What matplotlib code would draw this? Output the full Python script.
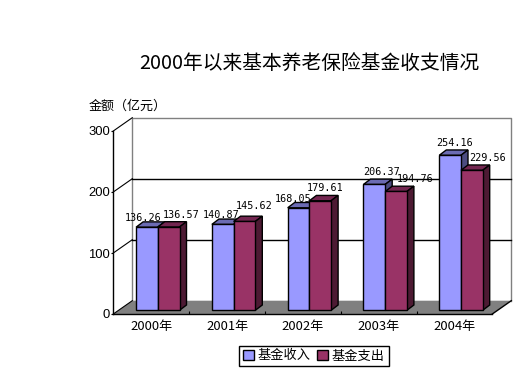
import numpy as np
import matplotlib
matplotlib.use('Agg')
import matplotlib.pyplot as plt
from matplotlib.patches import Patch, Polygon

plt.rcParams['font.family'] = ['Noto Sans CJK SC', 'DejaVu Sans']

# Data
years = ['2000年', '2001年', '2002年', '2003年', '2004年']
income = [136.26, 140.87, 168.05, 206.37, 254.16]
spending = [136.57, 145.62, 179.61, 194.76, 229.56]
y_ticks = [0, 100, 200, 300]

W, H = 515, 377
fig = plt.figure(figsize=(W / 100, H / 100), dpi=100, facecolor='white')

# Front plane of the fake 3D box, pixel rectangle of the original
left, right, top, bottom = 113.3, 492.3, 131.0, 314.0
ax = fig.add_axes([left / W, 1 - bottom / H, (right - left) / W, (bottom - top) / H])
ax.set_xlim(0, 5)
ax.set_ylim(0, 300)
ax.patch.set_alpha(0)

# pixel -> data helpers
px_x = 5 / (right - left)
px_y = 300 / (bottom - top)
wall_dx, wall_dy = 19 * px_x, 13.3 * px_y
bar_w = 21.7 * px_x
bar_off = 6.6 * px_x
bar_base = 3.7 * px_y
bar_dx, bar_dy = 7 * px_x, 5.3 * px_y

# floor and walls
ax.add_patch(Polygon([(0, 0), (5, 0), (5 + wall_dx, wall_dy), (wall_dx, wall_dy)],
                     facecolor='#808080', edgecolor='none', clip_on=False, zorder=1))
ax.plot([wall_dx, wall_dx, 5 + wall_dx, 5 + wall_dx],
        [wall_dy, 300 + wall_dy, 300 + wall_dy, wall_dy],
        color='#808080', lw=1, clip_on=False, zorder=1.5)
ax.plot([5, 5 + wall_dx], [0, wall_dy], color='black', lw=1, clip_on=False, zorder=2)
for v in y_ticks:
    ax.plot([0, wall_dx], [v, v + wall_dy], color='black', lw=0.8, clip_on=False, zorder=2)
for v in y_ticks[1:3]:
    ax.plot([wall_dx, 5 + wall_dx], [v + wall_dy, v + wall_dy], color='black', lw=1,
            clip_on=False, zorder=2)


def draw_bars(xs, values, face, top_c, side_c, z):
    ax.bar(xs, values, width=bar_w, bottom=bar_base, align='edge', color=face,
           edgecolor='black', linewidth=1, zorder=z + 0.2, clip_on=False)
    for x0, v in zip(xs, values):
        y1 = v + bar_base
        x1 = x0 + bar_w
        ax.add_patch(Polygon([(x0, y1), (x1, y1), (x1 + bar_dx, y1 + bar_dy), (x0 + bar_dx, y1 + bar_dy)],
                             facecolor=top_c, edgecolor='black', lw=1, zorder=z, clip_on=False))
        ax.add_patch(Polygon([(x1, bar_base), (x1 + bar_dx, bar_base + bar_dy), (x1 + bar_dx, y1 + bar_dy), (x1, y1)],
                             facecolor=side_c, edgecolor='black', lw=1, zorder=z, clip_on=False))


centers = np.arange(len(years)) + 0.5
split = centers + bar_off
draw_bars(split - bar_w, income, '#9999FF', '#6B6BB3', '#4C4C80', 5)
draw_bars(split, spending, '#993366', '#732650', '#4D1A33', 6)

# Value labels sit behind the bars, nudged by hand like the original
income_dx = [-4, -2, -5, 7.5, 4]
income_dy = [9.5, 9.4, 8.8, 12.4, 12.6]
spending_dx = [13, 10, 5, 19, 16]
spending_dy = [12, 15.5, 12.7, 12.5, 12.3]
for i in range(len(years)):
    ax.annotate(f'{income[i]:.2f}', xy=(split[i] - bar_w / 2, income[i] + bar_base),
                xytext=(income_dx[i], income_dy[i]), textcoords='offset pixels',
                ha='center', va='center', fontsize=7.3, family='DejaVu Sans Mono',
                zorder=3, annotation_clip=False)
    ax.annotate(f'{spending[i]:.2f}', xy=(split[i] + bar_w / 2, spending[i] + bar_base),
                xytext=(spending_dx[i], spending_dy[i]), textcoords='offset pixels',
                ha='center', va='center', fontsize=7.3, family='DejaVu Sans Mono',
                zorder=3, annotation_clip=False)

# Axes
for s in ['top', 'right']:
    ax.spines[s].set_visible(False)
for s in ['left', 'bottom']:
    ax.spines[s].set_linewidth(1)
    ax.spines[s].set_zorder(4)
ax.set_yticks(y_ticks)
ax.set_yticklabels([str(v) for v in y_ticks], family='Liberation Sans', fontsize=9.4)
ax.tick_params(axis='y', length=1.5, width=0.8, pad=1)
ax.set_xticks(centers)
ax.set_xticklabels(years, fontsize=9.4)
ax.tick_params(axis='x', which='major', length=0, pad=4)
ax.set_xticks(np.arange(1, 5), minor=True)
ax.tick_params(axis='x', which='minor', direction='in', length=2.2, width=0.8)

# Titles
fig.text(309 / W, 1 - 64 / H, '2000年以来基本养老保险基金收支情况', fontsize=14.2,
         ha='center', va='center')
fig.text(89 / W, 1 - 106 / H, '金额（亿元）', fontsize=9.4, ha='left', va='center')

# Legend
handles = [Patch(facecolor='#9999FF', edgecolor='black', label='基金收入'),
           Patch(facecolor='#993366', edgecolor='black', label='基金支出')]
fig.legend(handles=handles, loc='center', bbox_to_anchor=(314 / W, 1 - 356 / H), ncol=2,
           frameon=True, fancybox=False, edgecolor='black', framealpha=1, fontsize=9.5,
           handlelength=0.8, handleheight=0.8, handletextpad=0.3, columnspacing=0.5,
           borderpad=0.3, borderaxespad=0)

fig.savefig('out.png', dpi=100)
